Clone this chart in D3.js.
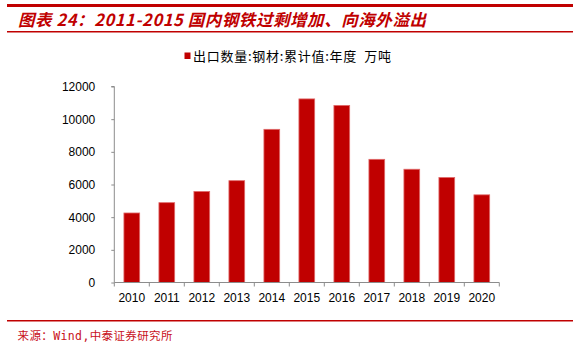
<!DOCTYPE html>
<html>
<head>
<meta charset="utf-8">
<script src="https://cdn.jsdelivr.net/npm/d3@7"></script>
<style>
  html, body { margin: 0; padding: 0; background: #fff; }
  svg { display: block; }
</style>
</head>
<body>
<svg id="chart" width="579" height="346"></svg>
<script>
// Steel exports, annual cumulative (10k tonnes)
const years = ["2010","2011","2012","2013","2014","2015","2016","2017","2018","2019","2020"];
const exportsVal = [4256, 4888, 5573, 6234, 9378, 11240, 10843, 7541, 6934, 6429, 5367];
const yTicks = [0, 2000, 4000, 6000, 8000, 10000, 12000];
const titleText = "图表 24：2011-2015 国内钢铁过剩增加、向海外溢出";
const legendText = "出口数量:钢材:累计值:年度  万吨";
const sourceText = "来源：Wind,中泰证券研究所";

const RED = "#c00000";
const svg = d3.select("#chart");

// header rules and title
svg.append("rect").attr("x", 7).attr("y", 4).attr("width", 566).attr("height", 3).attr("fill", RED);
svg.append("rect").attr("x", 7).attr("y", 31).attr("width", 566).attr("height", 1.5).attr("fill", RED);
svg.append("text")
  .attr("x", 18).attr("y", 26)
  .attr("fill", RED)
  .attr("font-family", "'Noto Sans CJK SC', 'Liberation Sans', sans-serif")
  .attr("font-size", 16.5).attr("font-weight", "bold").attr("font-style", "italic")
  .attr("textLength", 408).attr("lengthAdjust", "spacing")
  .text(titleText);

// footer rule and source
svg.append("rect").attr("x", 7).attr("y", 320).attr("width", 566).attr("height", 1.5).attr("fill", RED);
svg.append("text")
  .attr("x", 17.5).attr("y", 340)
  .attr("fill", "#c8101a")
  .attr("font-family", "'DejaVu Sans Mono', 'Noto Sans CJK SC', monospace")
  .attr("font-size", 11.5)
  .attr("textLength", 155).attr("lengthAdjust", "spacing")
  .text(sourceText);

// plot area
const x0 = 114.3, x1 = 499.3, yTop = 86.5, yBot = 282.5;
const x = d3.scaleBand().domain(years).range([x0, x1]).paddingInner(0.55).paddingOuter(0.275);
const y = d3.scaleLinear().domain([0, 12000]).range([yBot, yTop]);

// bars
svg.append("g").selectAll("rect").data(years).join("rect")
  .attr("x", d => x(d))
  .attr("y", (d, i) => y(exportsVal[i]))
  .attr("width", x.bandwidth())
  .attr("height", (d, i) => yBot - y(exportsVal[i]))
  .attr("fill", RED)
  .attr("stroke", "#e06a6a").attr("stroke-width", 0.8);

// y axis
const yAxis = d3.axisLeft(y).tickValues(yTicks).tickSize(3).tickPadding(16).tickFormat(d3.format("d"));
const gy = svg.append("g").attr("transform", `translate(${x0},0)`).call(yAxis);
gy.select(".domain").attr("stroke", "#8c8c8c").attr("d", `M-3,${yTop}H0V${yBot}`);
gy.selectAll(".tick line").attr("stroke", "#8c8c8c");
gy.selectAll(".tick text")
  .attr("fill", "#000")
  .attr("font-family", "'Liberation Sans', Arial, sans-serif")
  .attr("font-size", 12);

// x axis with ticks between categories
const gx = svg.append("g").attr("transform", `translate(0,${yBot})`);
gx.append("line").attr("x1", x0).attr("x2", x1).attr("y1", 0).attr("y2", 0).attr("stroke", "#8c8c8c");
const boundaries = d3.range(years.length + 1).map(i => x0 + i * (x1 - x0) / years.length);
gx.selectAll("line.tk").data(boundaries).join("line").attr("class", "tk")
  .attr("x1", d => d).attr("x2", d => d).attr("y1", 0).attr("y2", 4).attr("stroke", "#8c8c8c");
gx.selectAll("text").data(years).join("text")
  .attr("x", d => x(d) + x.bandwidth() / 2)
  .attr("y", 19)
  .attr("text-anchor", "middle")
  .attr("font-family", "'Liberation Sans', Arial, sans-serif")
  .attr("font-size", 12)
  .attr("fill", "#000")
  .text(d => d);

// legend
const lg = svg.append("g");
lg.append("rect").attr("x", 184.5).attr("y", 52.5).attr("width", 6).attr("height", 6.5).attr("fill", RED);
lg.append("text").attr("x", 193).attr("y", 61)
  .attr("font-family", "'Noto Sans CJK SC', sans-serif")
  .attr("font-size", 13)
  .attr("fill", "#000")
  .attr("xml:space", "preserve")
  .attr("textLength", 198).attr("lengthAdjust", "spacing")
  .text(legendText);
</script>
</body>
</html>
